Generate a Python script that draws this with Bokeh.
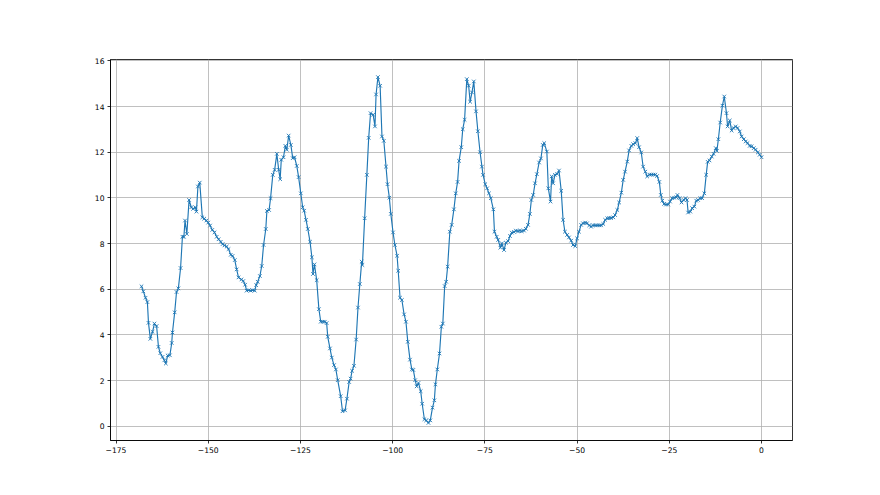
from bokeh.plotting import figure
from bokeh.models import FixedTicker, Range1d
from bokeh.embed import file_html
from bokeh.resources import INLINE

x_vals = [
    -168.1, -167.6, -167.0, -166.5, -166.2, -165.7, -165.1, -164.6, -164.0, -163.5,
    -163.0, -162.4, -161.9, -161.5, -161.0, -160.4, -159.9, -159.7, -159.1, -158.6,
    -158.1, -157.5, -157.0, -156.6, -156.3, -155.8, -155.2, -154.6, -154.1, -153.5,
    -153.2, -152.8, -152.3, -151.6, -151.1, -150.5, -150.0, -149.5, -148.9, -148.3,
    -147.7, -147.2, -146.6, -146.1, -145.6, -145.0, -144.5, -143.9, -143.4, -142.8,
    -142.3, -141.8,
    -141.0, -140.5, -140.0, -139.6, -139.0, -138.5, -138.0, -137.4, -137.0, -136.6,
    -136.0, -135.5, -135.0, -134.4, -134.1, -133.5, -133.1, -132.5, -132.0, -131.4,
    -130.9, -130.5, -130.2, -129.6, -129.1, -128.7, -128.2, -127.6, -127.1, -126.6,
    -126.0, -125.5, -124.9, -124.4, -124.0, -123.5, -123.0, -122.4, -121.9, -121.6,
    -121.2, -120.6, -120.0, -119.5, -118.9, -118.4, -117.9, -117.6, -117.0, -116.5,
    -115.9, -115.4, -114.9, -114.1, -113.6,
    -112.9, -112.4, -111.8, -111.4, -111.0, -110.5, -109.9, -109.4, -108.9, -108.4,
    -108.2, -107.6, -107.0, -106.5, -106.0, -105.3, -104.8, -104.5, -104.0, -103.4,
    -102.9, -102.4, -101.8, -101.4, -100.9, -100.5, -99.9, -99.4, -98.8, -98.5,
    -98.0, -97.5, -96.9, -96.4, -95.9, -95.3, -94.8, -94.4, -93.9, -93.5,
    -93.0, -92.4, -92.0, -91.4, -90.9, -90.3, -89.8, -89.2, -88.7, -88.4,
    -87.9, -87.3, -86.8, -86.4, -85.9, -85.5, -85.1, -84.5,
    -84.0, -83.4, -82.9, -82.4, -82.0, -81.4, -81.0, -80.5, -79.9, -79.4,
    -79.0, -78.5, -78.0, -77.4, -76.9, -76.3, -75.8, -75.5, -74.9, -74.4,
    -73.9, -73.4, -72.7, -72.4, -71.8, -71.4, -70.8, -70.4, -69.8, -69.3,
    -68.7, -68.2, -67.7, -67.1, -66.6, -66.0, -65.5, -65.0, -64.4, -63.9,
    -63.3, -62.8, -62.4, -61.9, -61.4, -60.9, -60.3, -59.8, -59.3, -58.9,
    -58.2, -57.8, -57.2, -56.9, -56.5, -56.0,
    -55.4, -54.9, -54.3, -53.8, -53.3, -52.7, -52.2, -51.6, -51.1, -50.5,
    -50.0, -49.5, -48.9, -48.4, -47.8, -47.3, -46.7, -46.2, -45.7, -45.1,
    -44.6, -44.0, -43.5, -42.9, -42.4, -41.8, -41.3, -40.8, -40.2, -39.7,
    -39.1, -38.6, -38.0, -37.5, -37.0, -36.4, -35.9, -35.3, -34.8, -34.2,
    -33.7, -33.2, -32.6, -32.1, -31.5, -31.0, -30.4, -29.9, -29.3, -28.8,
    -28.3,
    -27.7, -27.3, -26.9, -26.4, -25.9, -25.3, -24.8, -24.2, -23.7, -23.1,
    -22.8, -22.2, -21.7, -21.1, -20.6, -20.2, -19.9, -19.3, -18.8, -18.2,
    -17.7, -17.2, -16.6, -16.1, -15.5, -15.0, -14.6, -14.1, -13.5, -13.0,
    -12.4, -12.1, -11.7, -11.2, -10.6, -10.1, -9.5, -9.2, -8.6, -8.1,
    -7.6, -7.0, -6.5, -5.9, -5.4, -4.8, -4.3, -3.8, -3.2, -2.7,
    -2.1, -1.6, -1.0, -0.5, 0.0,
]

y_vals = [
    6.13, 5.91, 5.63, 5.44, 4.53, 3.83, 4.14, 4.50, 4.39, 3.48,
    3.20, 3.04, 2.89, 2.75, 3.10, 3.11, 3.65, 4.11, 4.99, 5.88,
    6.04, 6.93, 8.30, 8.30, 9.01, 8.42, 9.91, 9.59, 9.52, 9.59,
    9.40, 10.50, 10.67, 9.15, 9.09, 9.01, 8.92, 8.79, 8.60, 8.49,
    8.30, 8.19, 8.08, 7.98, 7.92, 7.87, 7.76, 7.51, 7.46, 7.28,
    6.87, 6.52,
    6.43, 6.36, 6.20, 5.94, 5.96, 5.94, 5.96, 5.94, 6.18, 6.33,
    6.58, 7.02, 7.94, 8.64, 9.43, 9.47, 9.99, 11.01, 11.23, 11.93,
    11.23, 10.82, 11.67, 11.78, 12.28, 12.11, 12.73, 12.32, 11.74, 11.78,
    11.40, 10.91, 10.20, 9.59, 9.44, 9.04, 8.64, 8.08, 7.40, 6.67,
    7.09, 6.40, 5.13, 4.58, 4.58, 4.58, 4.52, 3.92, 3.41, 3.01,
    2.68, 2.49, 2.02, 1.32, 0.66,
    0.70, 1.21, 1.94, 2.09, 2.43, 2.65, 3.80, 5.20, 6.23, 7.21,
    7.06, 9.11, 11.01, 12.63, 13.71, 13.64, 13.13, 14.53, 15.29, 14.91,
    12.69, 12.50, 11.37, 10.60, 10.01, 9.30, 8.49, 7.94, 7.47, 6.81,
    5.63, 5.53, 4.90, 4.58, 3.70, 2.92, 2.49, 2.47, 2.02, 1.75,
    1.90, 1.54, 0.99, 0.31, 0.26, 0.15, 0.26, 0.82, 1.14, 1.84,
    2.49, 3.19, 4.36, 4.50, 6.14, 6.33, 6.99, 8.52,
    8.82, 9.50, 10.20, 10.70, 11.62, 12.22, 13.01, 13.42, 15.20, 14.91,
    14.21, 14.62, 15.10, 13.79, 12.92, 12.00, 11.37, 11.01, 10.60, 10.42,
    10.20, 9.99, 9.50, 8.52, 8.30, 8.16, 7.82, 8.01, 7.72, 8.04,
    8.11, 8.33, 8.48, 8.51, 8.57, 8.54, 8.57, 8.54, 8.57, 8.65,
    8.82, 9.30, 9.91, 10.13, 10.64, 11.04, 11.55, 11.73, 12.32, 12.40,
    12.03, 10.42, 9.84, 10.94, 10.64, 11.01,
    11.05, 11.20, 10.31, 9.04, 8.52, 8.38, 8.27, 8.13, 7.94, 7.89,
    8.23, 8.52, 8.82, 8.89, 8.92, 8.89, 8.80, 8.74, 8.80, 8.80,
    8.80, 8.80, 8.80, 8.86, 9.04, 9.11, 9.12, 9.12, 9.15, 9.25,
    9.47, 9.80, 10.23, 10.79, 11.15, 11.59, 12.08, 12.28, 12.35, 12.40,
    12.62, 12.22, 11.99, 11.37, 11.15, 10.94, 11.02, 11.02, 11.02, 11.02,
    10.96,
    10.70, 10.13, 9.88, 9.74, 9.71, 9.71, 9.84, 9.99, 10.01, 10.03,
    10.13, 9.99, 9.80, 9.91, 9.99, 9.91, 9.36, 9.40, 9.55, 9.62,
    9.88, 9.91, 9.99, 9.99, 10.20, 11.01, 11.58, 11.64, 11.81, 11.93,
    12.18, 12.06, 12.57, 13.30, 14.04, 14.44, 13.71, 13.13, 13.39, 12.95,
    13.06, 13.13, 13.06, 12.91, 12.69, 12.57, 12.47, 12.40, 12.28, 12.26,
    12.18, 12.11, 11.99, 11.89, 11.78,
]

x_ticks = [-175, -150, -125, -100, -75, -50, -25, 0]
y_ticks = [0, 2, 4, 6, 8, 10, 12, 14, 16]

color = "#1f77b4"

p = figure(
    frame_width=682, frame_height=381,
    min_border_left=110, min_border_right=80,
    min_border_top=59, min_border_bottom=46,
    output_backend="svg", toolbar_location=None,
    x_range=Range1d(-176.5, 8.4), y_range=Range1d(-0.62, 16.06),
    background_fill_color="white", border_fill_color="white",
)

p.line(x_vals, y_vals, line_color=color, line_width=1.15)
p.scatter(x_vals, y_vals, marker="x", size=5, line_color=color, line_width=0.9)

p.outline_line_color = "black"
p.outline_line_width = 0.8
p.outline_line_alpha = 1.0

for ax, ticks in ((p.xaxis, x_ticks), (p.yaxis, y_ticks)):
    ax.ticker = FixedTicker(ticks=ticks)
    ax.major_label_overrides = {t: (f"\u2212{abs(t)}" if t < 0 else str(t)) for t in ticks}
    ax.minor_tick_line_color = None
    ax.major_tick_in = 0
    ax.major_tick_out = 3
    ax.major_tick_line_color = "black"
    ax.major_tick_line_width = 0.8
    ax.axis_line_color = "black"
    ax.axis_line_width = 0.8
    ax.major_label_text_font = "DejaVu Sans"
    ax.major_label_text_font_size = "7.6px"
    ax.major_label_text_color = "black"
    ax.major_label_standoff = 3

p.grid.grid_line_color = "#b0b0b0"
p.grid.grid_line_width = 0.8
p.xgrid.ticker = FixedTicker(ticks=x_ticks)
p.ygrid.ticker = FixedTicker(ticks=y_ticks)

open("out.html", "w").write(file_html(p, INLINE))
